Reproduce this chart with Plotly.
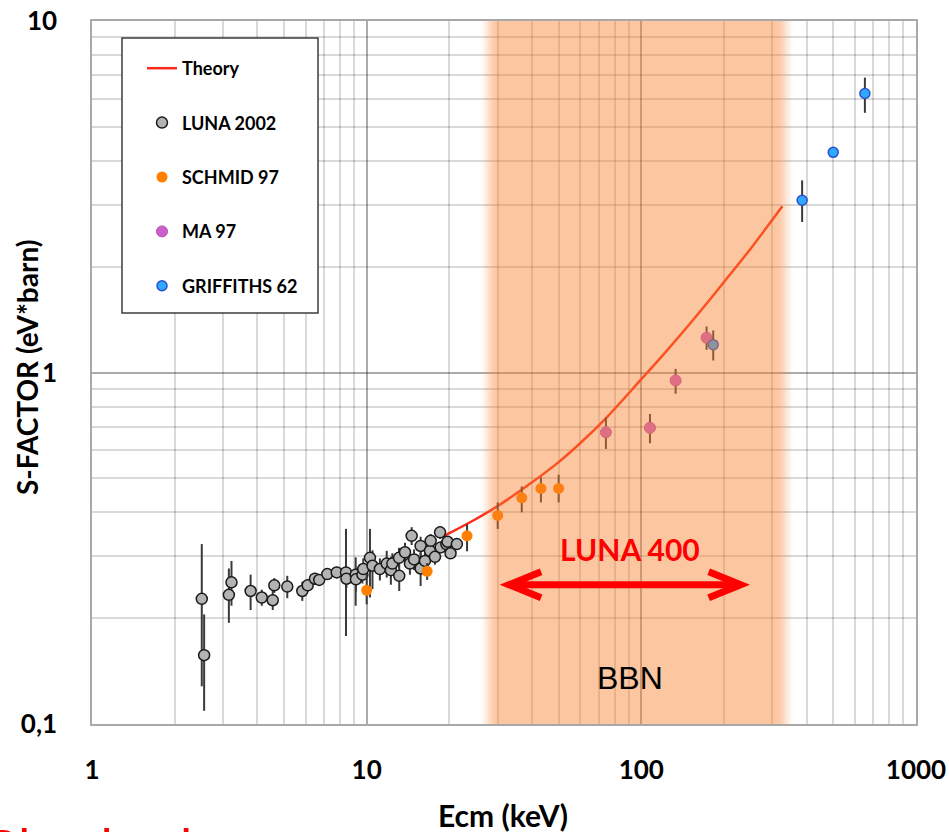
import numpy as np
import plotly.graph_objects as go

# ---------------- data ----------------
theory_e = [19, 20, 25, 30, 40, 50, 60, 75, 100, 125, 150, 175, 200, 250, 300, 326]
theory_s = [0.342, 0.349, 0.383, 0.417, 0.487, 0.556, 0.630, 0.747, 0.957, 1.164, 1.374, 1.589,
            1.81, 2.25, 2.72, 2.97]

luna_e = [2.51, 2.56, 3.15, 3.22, 3.78, 4.15, 4.55, 4.61, 5.14, 5.83, 6.10, 6.48, 6.72, 7.19, 7.78,
          8.41, 8.44, 9.12, 9.14, 9.65, 9.72, 10.28, 10.5, 11.17, 11.83, 12.25, 12.4, 13.11, 13.14,
          13.79, 14.37, 14.58, 14.88, 15.72, 15.72, 16.3, 17.0, 17.1, 17.73, 18.5, 18.6, 19.5, 19.7,
          20.2, 21.3]
luna_s = [0.227, 0.157, 0.233, 0.253, 0.239, 0.229, 0.225, 0.248, 0.246, 0.239, 0.248, 0.259, 0.257,
          0.267, 0.270, 0.270, 0.259, 0.266, 0.258, 0.266, 0.276, 0.297, 0.282, 0.276, 0.286, 0.274,
          0.286, 0.297, 0.264, 0.308, 0.286, 0.343, 0.294, 0.277, 0.321, 0.291, 0.311, 0.332, 0.299,
          0.351, 0.318, 0.325, 0.330, 0.306, 0.325]
luna_up = [0.098, 0.048, 0.044, 0.038, 0.027, 0.012, 0.014, 0.012, 0.018, 0.015, 0.010, 0.010, 0.010,
           0.010, 0.010, 0.089, 0.015, 0.032, 0.020, 0.015, 0.020, 0.062, 0.030, 0.020, 0.025, 0.025,
           0.020, 0.020, 0.025, 0.020, 0.020, 0.020, 0.020, 0.030, 0.020, 0.020, 0.015, 0.015, 0.015,
           0.015, 0.010, 0.010, 0.010, 0.010, 0.010]
luna_dn = [0.099, 0.048, 0.039, 0.036, 0.028, 0.012, 0.014, 0.012, 0.018, 0.015, 0.010, 0.010, 0.010,
           0.010, 0.010, 0.092, 0.015, 0.049, 0.020, 0.015, 0.020, 0.068, 0.040, 0.020, 0.025, 0.025,
           0.020, 0.020, 0.025, 0.020, 0.020, 0.020, 0.020, 0.030, 0.020, 0.020, 0.015, 0.015, 0.015,
           0.015, 0.010, 0.010, 0.010, 0.010, 0.010]

schmid_e = [10.0, 16.6, 23.2, 30.0, 36.7, 43.1, 50.0]
schmid_s = [0.240, 0.272, 0.343, 0.392, 0.440, 0.468, 0.468]
schmid_up = [0.027, 0.015, 0.027, 0.035, 0.034, 0.035, 0.044]
schmid_dn = [0.021, 0.015, 0.033, 0.033, 0.040, 0.041, 0.041]

ma_e = [74.3, 107.5, 133.3, 172.8]
ma_s = [0.676, 0.696, 0.949, 1.256]
ma_up = [0.070, 0.066, 0.075, 0.096]
ma_dn = [0.070, 0.067, 0.079, 0.096]

griff_e = [182.7, 385, 499.5, 651.5]
griff_s = [1.20, 3.09, 4.23, 6.22]
griff_up = [0.117, 0.43, 0.10, 0.68]
griff_dn = [0.118, 0.41, 0.10, 0.74]

x_ticks = [1, 10, 100, 1000]
x_ticktext = ["1", "10", "100", "1000"]
y_ticks = [0.1, 1, 10]
y_ticktext = ["0,1", "1", "10"]

band_lo, band_hi = 30, 310          # BBN energy window (keV)
arrow_lo, arrow_hi, arrow_y = 33.0, 230, 0.249   # LUNA 400 range

# ---------------- figure ----------------
W, H = 949, 832
ML, MR, MT, MB = 92, 33, 21, 108
PW, PH = W - ML - MR, H - MT - MB

BOLD = dict(family="Lato", color="black", weight=700)

def dom_x(e):
    return np.log10(e) / 3.0

def dom_y(s):
    return (np.log10(s) + 1) / 2.0

fig = go.Figure()

err = lambda up, dn: dict(type="data", symmetric=False, array=up, arrayminus=dn,
                          color="#3a3a3a", thickness=2, width=0)

fig.add_trace(go.Scatter(x=theory_e, y=theory_s, mode="lines", name="Theory",
                         line=dict(color="#ff2a1a", width=2.5, shape="spline"),
                         legendgroup="a"))
fig.add_trace(go.Scatter(x=luna_e, y=luna_s, mode="markers", name="LUNA 2002",
                         marker=dict(size=11, color="#b3b3b3", line=dict(color="#1a1a1a", width=1.5)),
                         error_y=err(luna_up, luna_dn), legendgroup="b"))
fig.add_trace(go.Scatter(x=schmid_e, y=schmid_s, mode="markers", name="SCHMID 97",
                         marker=dict(size=11, color="#ff8000", line=dict(width=0)),
                         error_y=err(schmid_up, schmid_dn), legendgroup="c"))
fig.add_trace(go.Scatter(x=ma_e, y=ma_s, mode="markers", name="MA 97",
                         marker=dict(size=11, color="#cc5fcc", line=dict(color="#b050b0", width=1)),
                         error_y=err(ma_up, ma_dn), legendgroup="d"))
fig.add_trace(go.Scatter(x=griff_e, y=griff_s, mode="markers", name="GRIFFITHS 62",
                         marker=dict(size=10, color="#2fa8ff", line=dict(color="#2d4fc8", width=1.5)),
                         error_y=err(griff_up, griff_dn), legendgroup="e"))

shapes = []
# BBN band (semi-transparent overlay with soft edges)
A = 0.45
BAND_RGB = (248, 128, 44)
def band_rect(x0, x1, a):
    return dict(type="rect", xref="x domain", yref="y domain", x0=x0, x1=x1, y0=0, y1=1,
                fillcolor=f"rgba({BAND_RGB[0]},{BAND_RGB[1]},{BAND_RGB[2]},{a:.4f})",
                line=dict(width=0), layer="above")
lo, hi = dom_x(band_lo), dom_x(band_hi)
fade = 19.0 / PW
shapes.append(band_rect(lo, hi, A))
n = 10
for i in range(n):
    t = (i + 0.5) / n
    a = A * (3 * t * t - 2 * t * t * t)
    shapes.append(band_rect(lo - fade + i * fade / n, lo - fade + (i + 1) * fade / n, a))
    shapes.append(band_rect(hi + fade - (i + 1) * fade / n, hi + fade - i * fade / n, a))

# LUNA 400 double arrow
ax0, ax1, ay = dom_x(arrow_lo), dom_x(arrow_hi), dom_y(arrow_y)
cdx, cdy = 32.0 / PW, 13.0 / PH
red_line = dict(color="#ff0000", width=7)
shapes.append(dict(type="line", xref="x domain", yref="y domain", x0=ax0 + 0.004, x1=ax1 - 0.004,
                   y0=ay, y1=ay, line=red_line, layer="above"))
shapes.append(dict(type="path", xref="x domain", yref="y domain",
                   path=f"M {ax0+cdx},{ay+cdy} L {ax0},{ay} L {ax0+cdx},{ay-cdy}",
                   line=red_line, layer="above"))
shapes.append(dict(type="path", xref="x domain", yref="y domain",
                   path=f"M {ax1-cdx},{ay+cdy} L {ax1},{ay} L {ax1-cdx},{ay-cdy}",
                   line=red_line, layer="above"))

# legend frame
def px2paper(px, py):
    return (px - ML) / PW, (H - MB - py) / PH
lx0, ly0 = px2paper(122, 313)
lx1, ly1 = px2paper(318, 38)
shapes.append(dict(type="rect", xref="paper", yref="paper", x0=lx0, x1=lx1, y0=ly0, y1=ly1,
                   line=dict(color="#3c3c3c", width=1.5), fillcolor="white", layer="above"))

annotations = [
    dict(x=np.log10(91), y=np.log10(0.315), xref="x", yref="y", text="LUNA 400", showarrow=False,
         xanchor="center", yanchor="middle",
         font=dict(family="Lato", size=30, color="#ff0000", weight=700)),
    dict(x=np.log10(91), y=np.log10(0.135), xref="x", yref="y", text="BBN", showarrow=False,
         xanchor="center", yanchor="middle",
         font=dict(family="Liberation Sans", size=32, color="black")),
    dict(x=(503 - ML) / PW, y=(H - MB - 815) / PH, xref="paper", yref="paper", text="Ecm (keV)",
         xanchor="center", yanchor="middle", showarrow=False, font=dict(size=30, **BOLD)),
    dict(x=(27 - ML) / PW, y=(H - MB - 368) / PH, xref="paper", yref="paper",
         text="S-FACTOR (eV*barn)", textangle=-90, xanchor="center", yanchor="middle",
         showarrow=False, font=dict(size=28, **BOLD)),
    dict(x=(-19.5 - ML) / PW, y=(H - MB - 817) / PH, xref="paper", yref="paper",
         text="Physics impact", xanchor="left", yanchor="top", showarrow=False,
         font=dict(family="Liberation Sans", size=53, color="#ff0000")),
]

minor_x = [m * 10 ** k for k in range(0, 3) for m in range(2, 10)]
minor_y = [m * 10 ** k for k in (-1, 0) for m in range(2, 10)]

fig.update_layout(
    width=W, height=H, margin=dict(l=ML, r=MR, t=MT, b=MB, autoexpand=False),
    paper_bgcolor="white", plot_bgcolor="white",
    shapes=shapes, annotations=annotations,
    showlegend=True,
    legend=dict(x=(142 - ML) / PW, y=(H - MB - 50) / PH, xanchor="left", yanchor="top",
                bgcolor="rgba(0,0,0,0)", borderwidth=0, tracegroupgap=28,
                font=dict(size=18, **BOLD), itemwidth=30),
    xaxis=dict(type="log", range=[0, 3], tickvals=x_ticks, ticktext=x_ticktext,
               showgrid=True, gridcolor="rgba(0,0,0,0.33)", gridwidth=1.5,
               minor=dict(tickvals=minor_x, showgrid=True, gridcolor="rgba(0,0,0,0.15)",
                          gridwidth=1.5, ticks=""),
               showline=True, mirror=True, linecolor="#a8a8a8", linewidth=1.5,
               ticks="", zeroline=False, tickfont=dict(size=26, **BOLD), ticklabelstandoff=22),
    yaxis=dict(type="log", range=[-1, 1], tickvals=y_ticks, ticktext=y_ticktext,
               showgrid=True, gridcolor="rgba(0,0,0,0.33)", gridwidth=1.5,
               minor=dict(tickvals=minor_y, showgrid=True, gridcolor="rgba(0,0,0,0.15)",
                          gridwidth=1.5, ticks=""),
               showline=True, mirror=True, linecolor="#a8a8a8", linewidth=1.5,
               ticks="", zeroline=False, tickfont=dict(size=26, **BOLD), ticklabelstandoff=28),
)

fig.write_html("out.html")
